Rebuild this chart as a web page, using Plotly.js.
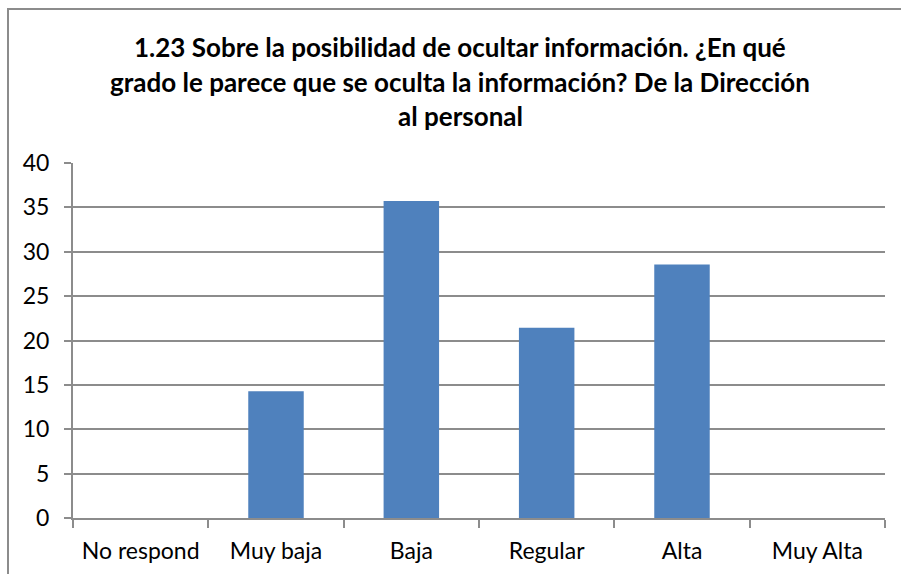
<!DOCTYPE html>
<html>
<head>
<meta charset="utf-8">
<script src="https://cdn.plot.ly/plotly-3.0.1.min.js"></script>
<style>
html,body{margin:0;padding:0;background:#fff;}
#wrap{position:relative;width:901px;height:574px;overflow:hidden;}
#frame{position:absolute;left:7px;top:8px;width:1000px;height:1000px;border-left:2px solid #8c8c8c;border-top:2px solid #8c8c8c;pointer-events:none;z-index:5;}
#chart{position:absolute;left:0;top:0;width:901px;height:574px;}
</style>
</head>
<body>
<div id="wrap">
<div id="chart"></div>
<div id="frame"></div>
</div>
<script>
const categories = ["No respond", "Muy baja", "Baja", "Regular", "Alta", "Muy Alta"];
const values = [0, 14.29, 35.71, 21.43, 28.57, 0];
const yTicks = [0, 5, 10, 15, 20, 25, 30, 35, 40];
const titleLines = [
  "1.23 Sobre la posibilidad de ocultar información. ¿En qué",
  "grado le parece que se oculta la información? De la Dirección",
  "al personal"
];

const fontFam = "Lato, 'Open Sans', sans-serif";
const titleY = [47, 82, 116];
const annotations = titleLines.map((t, i) => ({
  text: "<b>" + t + "</b>",
  xref: "paper", yref: "paper",
  x: (460 - 73) / 812, xanchor: "center",
  y: (518 - titleY[i]) / 355, yanchor: "middle",
  showarrow: false,
  font: {family: fontFam, size: 26, color: "#000"}
}));

const trace = {
  type: "bar",
  x: categories,
  y: values,
  marker: {color: "#4f81bd"},
  hoverinfo: "x+y"
};

const layout = {
  width: 901, height: 574,
  margin: {l: 73, r: 16, t: 163, b: 56, pad: 0},
  paper_bgcolor: "#fff", plot_bgcolor: "#fff",
  showlegend: false,
  bargap: 0.59,
  font: {family: fontFam, size: 23, color: "#000"},
  xaxis: {
    type: "category",
    showline: true, linecolor: "#8c8c8c", linewidth: 2,
    ticks: "outside", tickson: "boundaries", ticklen: 8, tickcolor: "#8c8c8c", tickwidth: 2,
    showgrid: false, zeroline: false,
    tickfont: {family: fontFam, size: 23, color: "#000"},
    ticklabelstandoff: 11
  },
  yaxis: {
    range: [0, 40],
    tickvals: yTicks, ticktext: yTicks.map(String),
    showline: true, linecolor: "#8c8c8c", linewidth: 2,
    ticks: "outside", ticklen: 7, tickcolor: "#8c8c8c", tickwidth: 2,
    showgrid: true, gridcolor: "#8c8c8c", gridwidth: 2,
    zeroline: false,
    tickfont: {family: fontFam, size: 23, color: "#000"},
    ticklabelstandoff: 10
  },
  annotations: annotations
};

Plotly.newPlot("chart", [trace], layout, {staticPlot: true, displayModeBar: false});
</script>
</body>
</html>
